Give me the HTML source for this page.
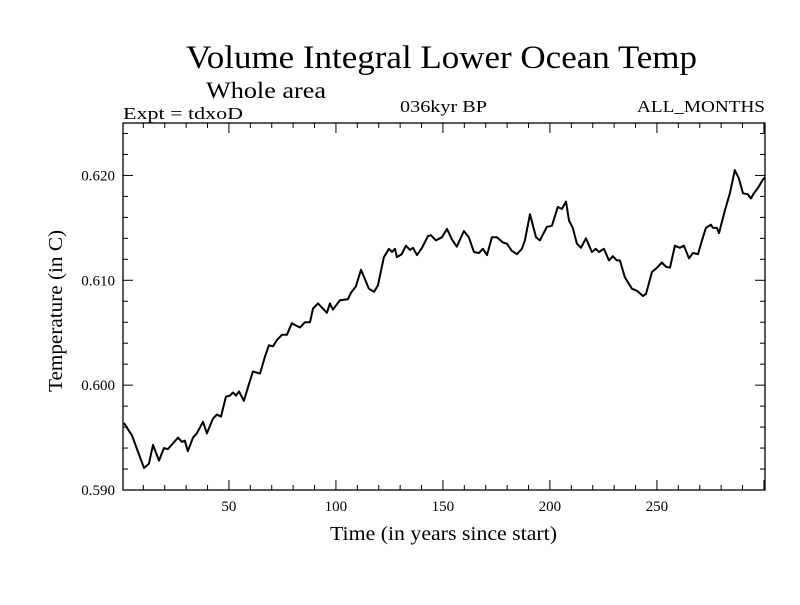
<!DOCTYPE html>
<html><head><meta charset="utf-8"><style>
body{margin:0;background:#fff;}
svg text{font-family:"Liberation Serif",serif;fill:#000;}
</style></head><body>
<svg id="chart" width="800" height="600" xmlns="http://www.w3.org/2000/svg">
<rect width="800" height="600" fill="#fff"/>
<text x="186" y="68" font-size="33" textLength="511" lengthAdjust="spacingAndGlyphs">Volume Integral Lower Ocean Temp</text>
<text x="206" y="98" font-size="23" textLength="120" lengthAdjust="spacingAndGlyphs">Whole area</text>
<text x="123" y="119" font-size="17" textLength="120" lengthAdjust="spacingAndGlyphs">Expt = tdxoD</text>
<text x="400" y="112" font-size="17" textLength="87" lengthAdjust="spacingAndGlyphs">036kyr BP</text>
<text x="637" y="112" font-size="17" textLength="128" lengthAdjust="spacingAndGlyphs">ALL_MONTHS</text>
<text x="330" y="540" font-size="20" textLength="227" lengthAdjust="spacingAndGlyphs">Time (in years since start)</text>
<text transform="translate(62,392) rotate(-90)" font-size="20" textLength="162" lengthAdjust="spacingAndGlyphs">Temperature (in C)</text>
<g id="axes"></g>
<path id="series" fill="none" stroke="#000" stroke-width="2" stroke-linejoin="round"/>
<rect x="123" y="123" width="642" height="367" fill="none" stroke="#000" stroke-width="1.3"/>
</svg>
<script>
const years=[0.9,4.7,10.3,12.6,14.5,17.3,19.6,21.5,26.2,28.0,29.4,30.8,33.2,35.0,37.9,39.7,42.5,44.4,46.3,48.6,50.5,51.9,53.3,54.7,57.0,58.9,61.2,64.5,66.8,68.7,70.6,72.4,74.8,77.1,79.4,83.2,85.5,87.9,89.3,91.6,95.8,97.2,98.6,101.9,105.6,107.0,109.3,111.7,115.4,117.8,119.6,122.4,124.8,126.2,127.6,128.5,130.8,132.7,134.6,136.0,137.9,140.2,143.0,144.4,146.7,149.5,151.9,154.2,156.5,159.8,162.1,164.5,166.8,168.7,170.6,172.9,175.2,178.0,179.9,182.2,184.6,186.9,188.3,190.7,193.5,195.3,198.6,200.9,203.7,205.6,207.5,208.9,210.7,212.6,214.5,216.8,219.6,221.5,222.9,225.2,227.6,229.4,231.3,232.7,235.0,238.3,240.7,243.5,244.9,247.7,249.5,252.3,254.2,256.1,258.4,260.7,262.6,265.0,266.8,269.2,270.6,272.9,275.2,276.2,278.0,279.0,281.8,284.1,286.4,288.3,290.2,292.5,293.9,295.3,297.2,299.5,300.5];
const temps=[0.5964,0.5952,0.5921,0.5925,0.5943,0.5928,0.5940,0.5939,0.5950,0.5946,0.5947,0.5937,0.5950,0.5954,0.5965,0.5954,0.5968,0.5972,0.5970,0.5989,0.5990,0.5993,0.5990,0.5994,0.5985,0.5998,0.6013,0.6011,0.6027,0.6038,0.6037,0.6043,0.6048,0.6048,0.6059,0.6055,0.6060,0.6060,0.6073,0.6078,0.6069,0.6078,0.6072,0.6081,0.6082,0.6088,0.6094,0.6110,0.6092,0.6089,0.6095,0.6122,0.6130,0.6127,0.6130,0.6122,0.6125,0.6133,0.6129,0.6131,0.6124,0.6131,0.6142,0.6143,0.6138,0.6141,0.6149,0.6139,0.6132,0.6147,0.6141,0.6127,0.6126,0.6130,0.6124,0.6141,0.6141,0.6136,0.6135,0.6128,0.6125,0.6130,0.6138,0.6163,0.6141,0.6138,0.6151,0.6152,0.6170,0.6168,0.6175,0.6157,0.6150,0.6135,0.6131,0.6140,0.6127,0.6130,0.6127,0.6130,0.6119,0.6123,0.6119,0.6119,0.6103,0.6092,0.6090,0.6085,0.6087,0.6108,0.6111,0.6117,0.6113,0.6112,0.6133,0.6131,0.6133,0.6121,0.6126,0.6125,0.6135,0.6150,0.6153,0.6150,0.6150,0.6145,0.6167,0.6183,0.6205,0.6197,0.6183,0.6182,0.6178,0.6183,0.6188,0.6196,0.6198];
const xTickLabels=["50","100","150","200","250"];
const yTickLabels=["0.590","0.600","0.610","0.620"];
const X0=123,X1=765,Y0=490,Y1=123,xMin=0.5,xMax=300.5,yMin=0.590,yMax=0.625;
const xs=v=>X0+(v-xMin)/(xMax-xMin)*(X1-X0);
const ys=v=>Y0-(v-yMin)/(yMax-yMin)*(Y0-Y1);
const ns="http://www.w3.org/2000/svg";
const ax=document.getElementById('axes');
function ln(x1,y1,x2,y2){const l=document.createElementNS(ns,'line');l.setAttribute('x1',x1);l.setAttribute('y1',y1);l.setAttribute('x2',x2);l.setAttribute('y2',y2);l.setAttribute('stroke','#000');l.setAttribute('stroke-width','1');ax.appendChild(l);return l;}
for(let t=10;t<=300;t+=10){const x=xs(t);const L=(t%50===0)?10:5;
 const a=ln(x,Y0,x,Y0-L);
 const b=ln(x,Y1,x,Y1+L);}
for(let i=0;i<=17;i++){const v=0.590+i*0.002;const y=ys(v);const L=(i%5===0)?10:5;
 const a=ln(X0,y,X0+L,y);
 const b=ln(X1,y,X1-L,y);}
xTickLabels.forEach(s=>{const t=document.createElementNS(ns,'text');t.setAttribute('x',xs(+s));t.setAttribute('y',511);t.setAttribute('font-size','15');t.setAttribute('text-anchor','middle');t.textContent=s;
 
 
 ax.appendChild(t);});
yTickLabels.forEach(s=>{const t=document.createElementNS(ns,'text');t.setAttribute('x',115);t.setAttribute('y',ys(+s)+5);t.setAttribute('font-size','15');t.setAttribute('text-anchor','end');t.textContent=s;
 
 
 ax.appendChild(t);});
document.getElementById('series').setAttribute('d',years.map((y,i)=>(i?'L':'M')+xs(y).toFixed(1)+','+ys(temps[i]).toFixed(1)).join(''));
</script>
</body></html>
